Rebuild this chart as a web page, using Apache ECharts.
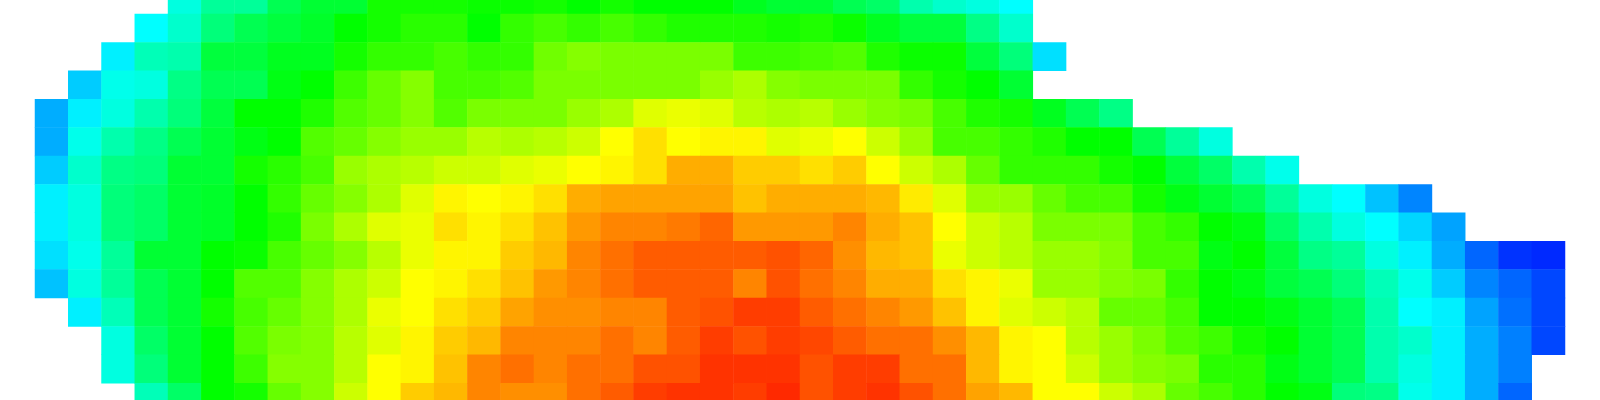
<!DOCTYPE html>
<html>
<head>
<meta charset="utf-8">
<style>html,body{margin:0;padding:0;background:#fff}#c{width:1600px;height:400px}</style>
<script src="https://cdn.jsdelivr.net/npm/echarts@6/dist/echarts.min.js"></script>
</head>
<body>
<div id="c"></div>
<script>
const _ = null;
const row00 = [_,_,_,_,28,35,35,42,45,45,52,52,52,51,51,52,50,52,50,50,50,47,45,45,42,40,33,30,28,25];
const row01 = [_,_,_,25,30,38,42,44,46,50,52,54,54,50,55,57,55,57,55,53,53,53,52,53,51,47,44,44,37,30];
const row02 = [_,_,23.5,32,33,44,44,47,47,52,55,55,57,55,55,61,63,62,62,62,62,56,56,57,58,53,51,51,44,38,22];
const row03 = [_,20,27,28,37,42,42,48,50,56,60,63,57,57,58,62,62,62,62,62,65,67,63,62,62,62,55,52,50,45];
const row04 = [17,23.5,28,33,38,44,50,50,53,58,60,63,58,62,62,62,65,67,72,73,72,68,67,68,65,63,62,57,53,52,47,42,37];
const row05 = [17,27,33,37,42,45,48,50,58,60,63,65,65,68,67,68,70,75,78,75,76,76,72,73,75,70,65,57,57,55,53,50,50,42,35,28];
const row06 = [20,30,37,38,45,45,52,54,57,65,67,68,70,70,72,73,75,76,78,83,83,80,80,78,80,75,70,67,60,55,55,55,52,50,44,40,33,27];
const row07 = [23.5,28,38,40,45,46,50,55,60,63,67,72,76,75,76,78,83,84,84,84,84,81,83,83,83,82,77,72,65,65,60,57,57,52,48,45,42,35,28,25,19,13];
const row08 = [23.5,28,38,40,45,46,50,53,62,67,72,73,78,76,78,81,85,87,87,88,90,85,85,85,87,83,81,75,70,68,62,62,62,57,55,50,48,40,33,28,25,21,16];
const row09 = [22,27,35,45,45,50,51,57,60,63,68,73,76,76,80,82,87,89,91,91,91,91,92,90,86,82,81,73,70,68,65,65,63,57,57,48,50,44,37,35,28,23.5,17,10,5,4];
const row10 = [19,28,35,42,45,50,58,58,63,67,70,75,76,78,81,85,87,89,91,91,91,87,92,89,87,83,83,78,76,73,65,65,63,62,55,50,48,44,42,38,32,27,20,13,10,7];
const row11 = [_,23.5,32,42,45,52,57,60,63,67,73,75,78,80,84,86,86,87,87,91,92,94,94,91,89,87,85,81,76,72,70,68,60,60,57,50,50,48,45,42,33,25,23.5,16,11,7];
const row12 = [_,_,28,40,45,50,58,62,63,68,72,76,80,82,87,87,87,89,87,91,94,92,94,93,91,89,89,86,82,76,75,68,65,62,58,56,52,50,45,42,33,30,23.5,17,12.5,7];
const row13 = [_,_,28,38,45,50,56,63,63,68,75,76,81,87,89,87,89,89,92,92,95,95,95,92,94,94,89,89,82,76,75,70,65,63,62,54,54,48,45,42,33,28,23.5,17,12.5];
const row14 = [_,_,_,32,40,50,52,60,63,70,75,80,82,87,86,86,89,91,94,95,95,94,96,92,94,95,92,89,84,82,75,75,70,67,60,57,54,50,48,38,37,27,23.5,17,10];
const rows = [row00,row01,row02,row03,row04,row05,row06,row07,row08,row09,row10,row11,row12,row13,row14];
const colCount = 46;
const colLabels = Array.from({length: colCount}, (_v, i) => String(i));
const rowLabels = rows.map((_v, i) => String(i));
const colorStops = ['#0000ff', '#00ffff', '#00ff00', '#ffff00', '#ff0000'];

const cells = [];
rows.forEach((r, y) => r.forEach((v, x) => { if (v !== null) cells.push([x, y, v]); }));

const chart = echarts.init(document.getElementById('c'), null, {renderer: 'canvas'});
chart.setOption({
  animation: false,
  backgroundColor: '#ffffff',
  grid: {left: 35, right: 35, top: -14.4, bottom: -11.6, containLabel: false, outerBoundsMode: 'none'},
  xAxis: {type: 'category', data: colLabels, show: false},
  yAxis: {type: 'category', data: rowLabels, inverse: true, show: false},
  visualMap: {show: false, type: 'continuous', min: 0, max: 100, inRange: {color: colorStops}},
  series: [{type: 'heatmap', data: cells, itemStyle: {borderWidth: 0}, progressive: 0}]
});
</script>
</body>
</html>
